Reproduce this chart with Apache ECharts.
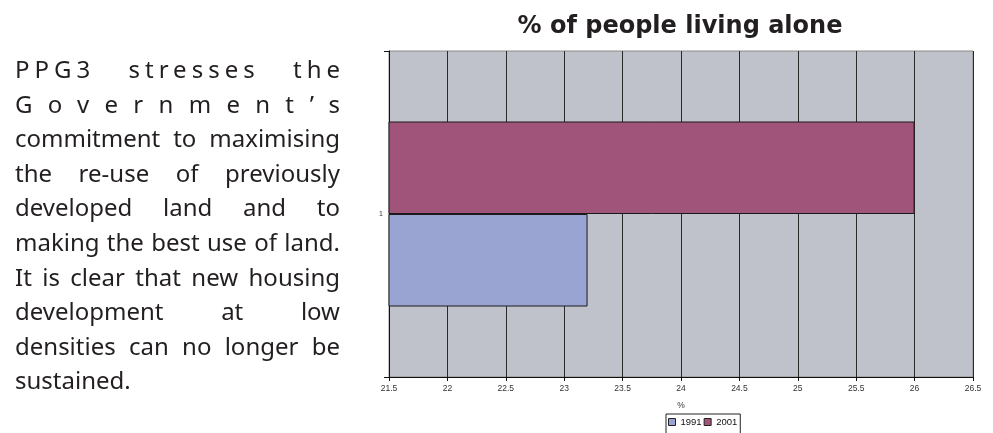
<!DOCTYPE html>
<html><head><meta charset="utf-8">
<script src="https://cdn.jsdelivr.net/npm/echarts@6/dist/echarts.min.js"></script>
<style>
html,body{margin:0;padding:0;background:#fff;width:993px;height:433px;overflow:hidden;}
#chart{position:absolute;left:0;top:0;width:993px;height:433px;}
#para{position:absolute;left:15px;top:52px;width:325px;font-family:'Noto Sans',sans-serif;font-size:24px;line-height:34.6px;color:#231f20;}
#para div{text-align:justify;text-align-last:justify;}
#para div.last{text-align-last:left;}
</style></head><body>
<div id="chart"></div>
<div id="para"></div>
<script>
// ---- data ----
const paragraphLines = [
  'PPG3 stresses the',
  'Government\u2019s',
  'commitment to maximising',
  'the re-use of previously',
  'developed land and to',
  'making the best use of land.',
  'It is clear that new housing',
  'development at low',
  'densities can no longer be',
  'sustained.'
];
const chartTitle = '% of people living alone';
const categories = ['1'];
const seriesNames = ['1991', '2001'];
const values1991 = [23.2];
const values2001 = [26.0];
const xMin = 21.5, xMax = 26.5, xInterval = 0.5;
const xAxisName = '%';

// ---- paragraph ----
const para = document.getElementById('para');
paragraphLines.forEach((t, i) => {
  const d = document.createElement('div');
  d.textContent = t;
  if (i === paragraphLines.length - 1) d.className = 'last';
  para.appendChild(d);
});
// spaced-out first two lines
(function(){
  const l1 = para.children[0];
  l1.style.letterSpacing = '5px';
  l1.style.width = '330px';
  const l2 = para.children[1];
  l2.style.textAlign = 'left';
  l2.style.textAlignLast = 'left';
  const s = document.createElement('span');
  s.textContent = l2.textContent;
  l2.textContent = '';
  l2.appendChild(s);
  const w = s.getBoundingClientRect().width;
  const n = s.textContent.length;
  const ls = (325 - w) / (n - 1);
  s.style.letterSpacing = ls + 'px';
  l2.style.whiteSpace = 'nowrap';
})();

// ---- chart ----
const chart = echarts.init(document.getElementById('chart'), null, {renderer: 'canvas'});
const option = {
  animation: false,
  title: {
    text: chartTitle, left: 680, top: 15, textAlign: 'center', padding: 0,
    textStyle: {fontFamily: 'DejaVu Sans', fontWeight: 'bold', fontSize: 24, color: '#231f20'}
  },
  grid: {
    left: 389, right: 20, top: 51, bottom: 56, show: true,
    backgroundColor: '#bfc2ca', borderColor: '#8a8a8a', borderWidth: 1,
    containLabel: false, outerBoundsMode: 'none'
  },
  legend: {
    data: seriesNames, left: 666, top: 414, orient: 'horizontal',
    itemWidth: 7, itemHeight: 7, itemGap: 2, icon: 'rect',
    borderColor: '#222', borderWidth: 1, padding: [3, 3, 8, 2],
    textStyle: {fontSize: 9.5, color: '#111', fontFamily: 'Liberation Sans'},
    itemStyle: {borderColor: '#222', borderWidth: 1}
  },
  xAxis: {
    type: 'value', min: xMin, max: xMax, interval: xInterval,
    name: xAxisName, nameLocation: 'middle', nameGap: 24,
    nameTextStyle: {fontSize: 8.5, color: '#333', fontFamily: 'Liberation Sans'},
    axisLine: {show: true, lineStyle: {color: '#111', width: 1}},
    axisTick: {show: true, length: 4, lineStyle: {color: '#111'}},
    axisLabel: {fontSize: 8.5, color: '#333', margin: 7, fontFamily: 'Liberation Sans'},
    splitLine: {show: true, lineStyle: {color: '#2a2a2a', width: 1}}
  },
  yAxis: {
    type: 'category', data: categories,
    axisLine: {show: true, lineStyle: {color: '#111', width: 1}},
    axisTick: {show: true, length: 5, lineStyle: {color: '#111'}},
    axisLabel: {fontSize: 7, color: '#333', margin: 6, fontFamily: 'Liberation Sans'},
    splitLine: {show: false}
  },
  series: [
    {name: seriesNames[1], type: 'bar', data: values2001, barWidth: 92.5, barGap: '0%',
     itemStyle: {color: '#a0547a', borderColor: '#1a1a1a', borderWidth: 1}},
    {name: seriesNames[0], type: 'bar', data: values1991, barWidth: 92.5, barGap: '0%',
     itemStyle: {color: '#9aa4d3', borderColor: '#1a1a1a', borderWidth: 1}}
  ]
};
chart.setOption(option);
</script>
</body></html>
